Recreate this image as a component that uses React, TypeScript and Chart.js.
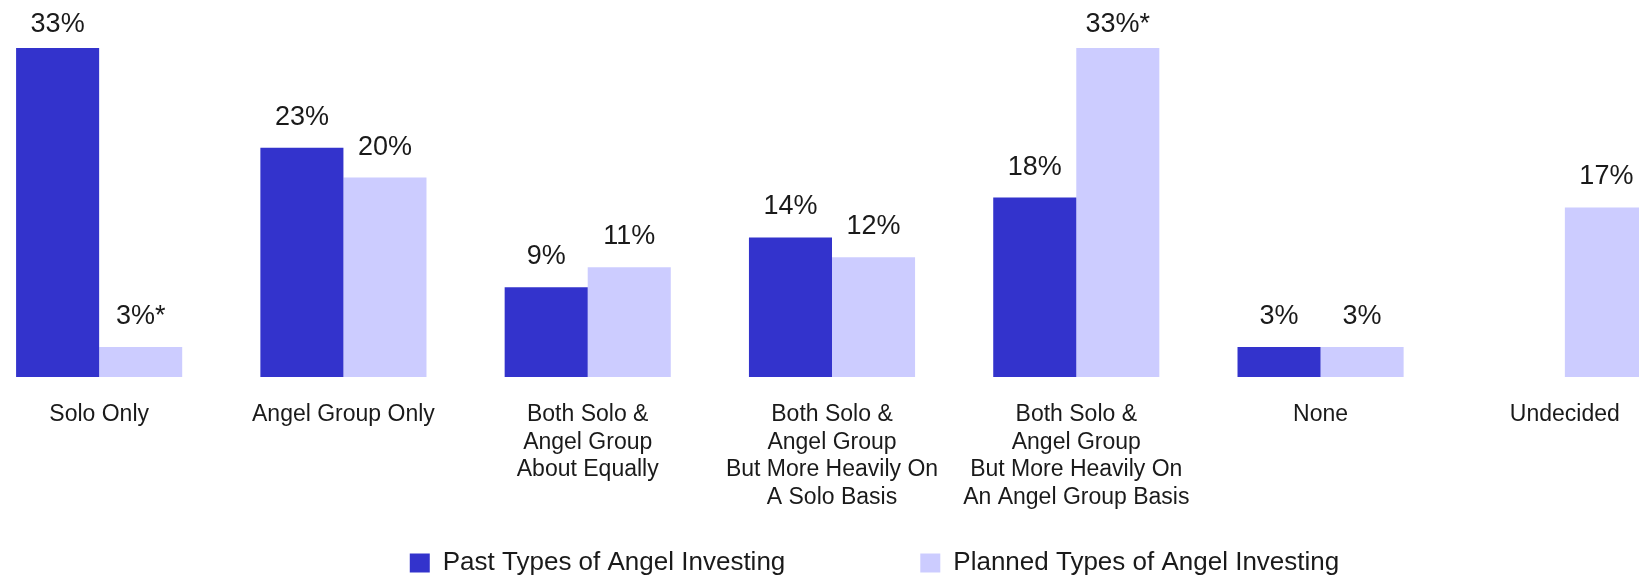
import React, { useEffect, useRef } from "react";
import { Chart, registerables } from "chart.js";

Chart.register(...registerables);

const categories: string[][] = [
  ["Solo Only"],
  ["Angel Group Only"],
  ["Both Solo &", "Angel Group", "About Equally"],
  ["Both Solo &", "Angel Group", "But More Heavily On", "A Solo Basis"],
  ["Both Solo &", "Angel Group", "But More Heavily On", "An Angel Group Basis"],
  ["None"],
  ["Undecided"],
];

const pastValues: (number | null)[] = [33, 23, 9, 14, 18, 3, null];
const plannedValues: (number | null)[] = [3, 20, 11, 12, 33, 3, 17];

const pastNotes: string[] = ["", "", "", "", "", "", ""];
const plannedNotes: string[] = ["*", "", "", "", "*", "", ""];

const seriesNames = ["Past Types of Angel Investing", "Planned Types of Angel Investing"];
const seriesColors = ["#3333CC", "#CCCCFF"];

const FONT = "'Liberation Sans', Arial, Helvetica, sans-serif";
const TEXT = "#1a1a1a";

const valueLabels = {
  id: "valueLabels",
  afterDatasetsDraw(chart: any) {
    const ctx = chart.ctx;
    const notes = [pastNotes, plannedNotes];
    ctx.save();
    ctx.font = `27px ${FONT}`;
    ctx.fillStyle = TEXT;
    ctx.textAlign = "center";
    ctx.textBaseline = "alphabetic";
    chart.data.datasets.forEach((ds: any, i: number) => {
      const meta = chart.getDatasetMeta(i);
      meta.data.forEach((bar: any, j: number) => {
        const v = ds.data[j];
        if (v === null || v === undefined) return;
        const y = Math.max(bar.y - 23, 32);
        ctx.fillText(`${v}%${notes[i][j]}`, bar.x, y);
      });
    });
    ctx.restore();
  },
};

export default function App() {
  const ref = useRef<HTMLCanvasElement | null>(null);

  useEffect(() => {
    if (!ref.current) return;
    const chart = new Chart(ref.current, {
      type: "bar",
      data: {
        labels: categories,
        datasets: [
          {
            label: seriesNames[0],
            data: pastValues,
            backgroundColor: seriesColors[0],
            categoryPercentage: 0.68,
            barPercentage: 1,
          },
          {
            label: seriesNames[1],
            data: plannedValues,
            backgroundColor: seriesColors[1],
            categoryPercentage: 0.68,
            barPercentage: 1,
          },
        ],
      },
      options: {
        responsive: false,
        animation: false,
        layout: { padding: { top: 28, left: 0, right: 0, bottom: 0 } },
        plugins: {
          legend: {
            position: "bottom",
            labels: {
              boxWidth: 20,
              boxHeight: 19,
              padding: 23,
              color: TEXT,
              font: { family: FONT, size: 26 },
              generateLabels: (c: any) => {
                const items = (Chart.defaults.plugins.legend.labels as any).generateLabels(c);
                const spacer = () => ({
                  text: "",
                  fillStyle: "rgba(0,0,0,0)",
                  strokeStyle: "rgba(0,0,0,0)",
                  lineWidth: 0,
                  hidden: false,
                  datasetIndex: -1,
                });
                return [items[0], spacer(), spacer(), items[1]];
              },
            },
          },
          tooltip: { enabled: false },
        },
        scales: {
          x: {
            grid: { display: false, drawTicks: false },
            border: { display: false },
            ticks: {
              color: TEXT,
              font: { family: FONT, size: 23, lineHeight: 1.2 },
              padding: 24,
              maxRotation: 0,
              autoSkip: false,
            },
            afterFit: (scale: any) => {
              scale.height = 150;
            },
          },
          y: {
            position: "right",
            min: 0,
            max: 35,
            grid: { display: false, drawTicks: false },
            border: { display: false },
            ticks: { display: false },
            afterFit: (scale: any) => {
              scale.width = 85;
            },
          },
        },
      },
      plugins: [valueLabels],
    });
    return () => chart.destroy();
  }, []);

  return (
    <div
      style={{
        position: "fixed",
        left: 0,
        top: 0,
        width: 1639,
        height: 576,
        overflow: "hidden",
        background: "#ffffff",
      }}
    >
      <canvas
        ref={ref}
        width={1795}
        height={586}
        style={{ position: "absolute", left: -23, top: 0, width: 1795, height: 586 }}
      />
    </div>
  );
}
